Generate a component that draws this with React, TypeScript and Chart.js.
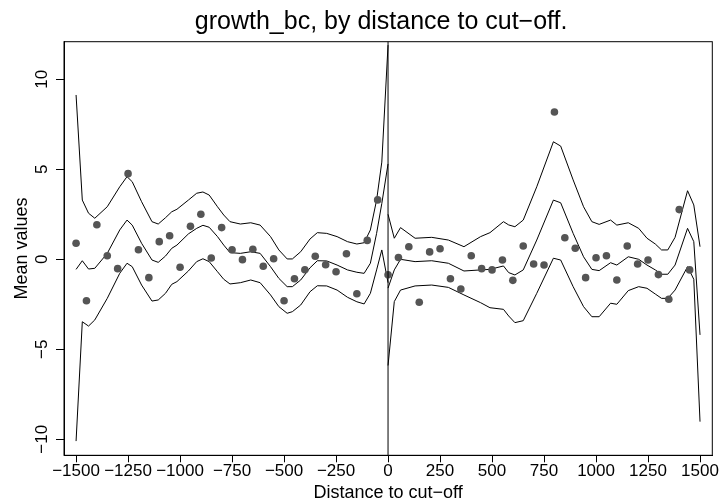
import React, { useEffect, useRef } from 'react';
import { Chart, registerables } from 'chart.js';

Chart.register(...registerables);

const TITLE = 'growth_bc, by distance to cut\u2212off.';
const X_TITLE = 'Distance to cut\u2212off';
const Y_TITLE = 'Mean values';

const xTicks = [-1500, -1250, -1000, -750, -500, -250, 0, 250, 500, 750, 1000, 1250, 1500];
const yTicks = [-10, -5, 0, 5, 10];

// bin means (dots)
const binX = [
  -1500, -1450, -1400, -1350, -1300, -1250, -1200, -1150, -1100, -1050,
  -1000, -950, -900, -850, -800, -750, -700, -650, -600, -550,
  -500, -450, -400, -350, -300, -250, -200, -150, -100, -50,
  0, 50, 100, 150, 200, 250, 300, 350, 400, 450,
  500, 550, 600, 650, 700, 750, 800, 850, 900, 950,
  1000, 1050, 1100, 1150, 1200, 1250, 1300, 1350, 1400, 1450,
];
const binMean = [
  0.89, -2.3, 1.92, 0.2, -0.52, 4.76, 0.53, -1.02, 0.98, 1.31,
  -0.44, 1.83, 2.5, 0.07, 1.76, 0.53, -0.02, 0.56, -0.39, 0.03,
  -2.3, -1.08, -0.58, 0.17, -0.3, -0.69, 0.31, -1.91, 1.05, 3.3,
  -0.86, 0.1, 0.7, -2.39, 0.41, 0.59, -1.08, -1.65, 0.2, -0.52,
  -0.59, -0.04, -1.17, 0.74, -0.26, -0.32, 8.18, 1.2, 0.61, -1.02,
  0.09, 0.2, -1.15, 0.74, -0.26, -0.04, -0.85, -2.22, 2.76, -0.59,
];

// left of cut-off: fit and confidence band
const leftX = [
  -1500, -1470, -1440, -1410, -1350, -1290, -1255, -1230, -1185, -1135,
  -1105, -1070, -1040, -1015, -960, -920, -890, -860, -820, -790,
  -760, -710, -660, -615, -565, -525, -485, -460, -420, -375,
  -340, -295, -245, -195, -150, -115, -85, -55, -30, 0,
];
const leftUpper = [
  9.13, 3.29, 2.56, 2.28, 2.92, 4.03, 4.59, 4.31, 3.2, 2.09,
  1.96, 2.31, 2.64, 2.78, 3.29, 3.67, 3.74, 3.57, 2.92, 2.46,
  2.09, 1.96, 2.03, 1.9, 1.26, 0.52, 0.02, 0.02, 0.42, 1.13,
  1.48, 1.44, 1.26, 0.98, 0.85, 0.92, 1.63, 3.29, 5.4, 11.9,
];
const leftFit = [
  -0.56, -0.08, -0.54, -0.5, 0.33, 1.63, 2.18, 1.9, 0.89, -0.04,
  -0.17, 0.18, 0.61, 0.79, 1.41, 1.72, 1.89, 1.78, 1.26, 0.79,
  0.37, 0.33, 0.42, 0.33, -0.41, -1.06, -1.52, -1.52, -1.15, -0.47,
  -0.08, -0.09, -0.32, -0.59, -0.72, -0.78, -0.22, 1.44, 3.1, 5.3,
];
const leftLower = [
  -10.1, -3.47, -3.71, -3.37, -2.17, -0.78, -0.22, -0.41, -1.43, -2.32,
  -2.26, -1.89, -1.39, -1.24, -0.65, -0.13, 0.03, -0.13, -0.69, -1.11,
  -1.37, -1.3, -1.15, -1.3, -1.98, -2.63, -3.0, -2.91, -2.54, -1.8,
  -1.47, -1.48, -1.71, -2.11, -2.36, -2.48, -1.89, -0.59, 0.52, -1.3,
];

// right of cut-off: fit and confidence band
const rightX = [
  0, 30, 60, 130, 210, 290, 365, 445, 490, 555,
  580, 610, 650, 715, 795, 830, 890, 940, 980, 1015,
  1070, 1100, 1155, 1205, 1245, 1285, 1315, 1345, 1380, 1440,
  1470, 1500,
];
const rightUpper = [
  2.5, 1.17, 1.76, 1.17, 1.22, 1.07, 0.7, 1.26, 1.48, 2.09,
  1.91, 1.81, 2.18, 4.03, 6.53, 6.29, 4.41, 2.92, 2.09, 1.94,
  2.18, 1.9, 2.03, 1.72, 1.17, 0.85, 0.52, 0.52, 1.22, 3.81,
  3.02, 0.7,
];
const rightFit = [
  -1.6, -0.59, 0, -0.13, -0.08, -0.22, -0.65, -0.59, -0.56, -0.37,
  -0.74, -0.87, -0.59, 1.07, 3.29, 3.14, 1.44, 0.14, -0.56, -0.63,
  -0.19, -0.32, 0.14, 0, -0.32, -0.59, -0.83, -0.83, -0.32, 1.72,
  0.98, -4.2,
];
const rightLower = [
  -5.9, -2.35, -1.71, -1.48, -1.43, -1.56, -1.98, -2.41, -2.69, -2.78,
  -3.15, -3.52, -3.41, -1.89, 0.06, -0.04, -1.52, -2.63, -3.19, -3.19,
  -2.44, -2.5, -1.74, -1.52, -1.61, -1.93, -2.17, -2.17, -1.71, -0.41,
  -1.11, -9.02,
];

const X_MIN = -1558;
const X_MAX = 1559;
const Y_MIN = -10.89;
const Y_MAX = 12.09;

const FONT = '"Liberation Sans", Arial, Helvetica, sans-serif';
const fmt = (v: number) => (v < 0 ? '\u2212' + Math.abs(v) : String(v));

export default function App() {
  const ref = useRef<HTMLCanvasElement>(null);

  useEffect(() => {
    document.body.style.margin = '0';
    const canvas = ref.current;
    if (!canvas) return;

    const pts = (xs: number[], ys: number[]) => xs.map((x, i) => ({ x, y: ys[i] }));
    const lineDs = (xs: number[], ys: number[]) => ({
      data: pts(xs, ys),
      showLine: true,
      pointRadius: 0,
      pointHoverRadius: 0,
      borderColor: '#000',
      backgroundColor: '#000',
      borderWidth: 1,
      tension: 0,
      fill: false,
    });

    const decor = {
      id: 'decor',
      afterDatasetsDraw(chart: any) {
        const { ctx, chartArea: a, scales } = chart;
        const x = scales.x;
        const y = scales.y;
        ctx.save();
        ctx.strokeStyle = '#000';
        ctx.lineWidth = 1;
        const x0 = x.getPixelForValue(0);
        ctx.beginPath();
        ctx.moveTo(x0, a.top);
        ctx.lineTo(x0, a.bottom);
        ctx.stroke();
        ctx.strokeRect(a.left, a.top, a.right - a.left, a.bottom - a.top);

        ctx.fillStyle = '#000';
        ctx.textAlign = 'center';
        ctx.textBaseline = 'alphabetic';

        // main title
        ctx.font = `25px ${FONT}`;
        ctx.fillText(TITLE, (a.left + a.right) / 2 - 7, a.top - 13);

        // y tick labels, parallel to the axis
        ctx.font = `17px ${FONT}`;
        y.ticks.forEach((t: any) => {
          const py = y.getPixelForValue(t.value);
          ctx.save();
          ctx.translate(a.left - 17, py);
          ctx.rotate(-Math.PI / 2);
          ctx.fillText(fmt(t.value), 0, 0);
          ctx.restore();
        });

        ctx.font = `18px ${FONT}`;
        ctx.save();
        ctx.translate(27, (a.top + a.bottom) / 2);
        ctx.rotate(-Math.PI / 2);
        ctx.fillText(Y_TITLE, 0, 0);
        ctx.restore();

        ctx.fillText(X_TITLE, (a.left + a.right) / 2, a.bottom + 43);
        ctx.restore();
      },
    };

    const chart = new Chart(canvas, {
      type: 'scatter',
      data: {
        datasets: [
          {
            data: pts(binX, binMean),
            pointRadius: 3.8,
            pointHoverRadius: 3.8,
            pointBackgroundColor: '#555555',
            pointBorderWidth: 0,
            showLine: false,
          } as any,
          lineDs(leftX, leftUpper),
          lineDs(leftX, leftFit),
          lineDs(leftX, leftLower),
          lineDs(rightX, rightUpper),
          lineDs(rightX, rightFit),
          lineDs(rightX, rightLower),
        ],
      },
      options: {
        responsive: false,
        animation: false,
        devicePixelRatio: 1,
        layout: { padding: { left: 0, right: 10.7, top: 41.7, bottom: 0 } },
        plugins: {
          legend: { display: false },
          tooltip: { enabled: false },
          title: { display: false },
        },
        scales: {
          x: {
            type: 'linear',
            min: X_MIN,
            max: X_MAX,
            afterBuildTicks: (s: any) => {
              s.ticks = xTicks.map((v) => ({ value: v }));
            },
            afterFit: (s: any) => {
              s.height = 46.7;
            },
            grid: {
              display: true,
              drawOnChartArea: false,
              drawTicks: true,
              tickLength: 7,
              color: '#000',
              lineWidth: 1,
            },
            border: { display: true, color: '#000', width: 1 },
            ticks: {
              autoSkip: false,
              maxRotation: 0,
              minRotation: 0,
              padding: 1,
              color: '#000',
              font: { family: FONT, size: 17, lineHeight: 1 },
              callback: (v: any) => fmt(Number(v)),
            },
          },
          y: {
            type: 'linear',
            min: Y_MIN,
            max: Y_MAX,
            afterBuildTicks: (s: any) => {
              s.ticks = yTicks.map((v) => ({ value: v }));
            },
            afterFit: (s: any) => {
              s.width = 64;
            },
            grid: {
              display: true,
              drawOnChartArea: false,
              drawTicks: true,
              tickLength: 8,
              color: '#000',
              lineWidth: 1,
            },
            border: { display: true, color: '#000', width: 1 },
            ticks: { display: false },
          },
        },
      },
      plugins: [decor],
    });

    return () => chart.destroy();
  }, []);

  return (
    <div style={{ position: 'absolute', left: 0, top: 0, width: 723, height: 502, background: '#fff' }}>
      <canvas ref={ref} width={723} height={502} style={{ display: 'block' }} />
    </div>
  );
}
